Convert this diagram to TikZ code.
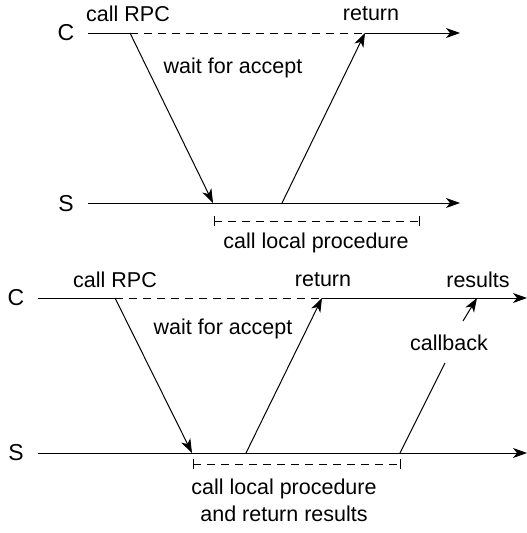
\documentclass[tikz,border=0pt]{standalone}
\usepackage{fontspec}
\setmainfont{Liberation Sans}
\usetikzlibrary{arrows.meta}
\begin{document}
\begin{tikzpicture}[x=1pt,y=-1pt,
  ln/.style={line width=1pt},
  arr/.style={ln,-{Stealth[length=14pt,width=10pt,inset=4pt]}},
  dsh/.style={ln,dash pattern=on 8pt off 6pt},
  lbl/.style={inner sep=0pt,font=\fontsize{21.5}{24}\selectfont},
  side/.style={inner sep=0pt,font=\fontsize{23}{26}\selectfont},
  tick/.style={ln}]
\useasboundingbox (0,0) rectangle (527,533);
% ---------- top diagram ----------
\node[side] (C1) at (66,33) {C};
\node[side] (S1) at (66,204) {S};
\coordinate (c1a) at (88,33);
\coordinate (c1call) at (130,33);
\coordinate (c1ret) at (365,33);
\coordinate (c1end) at (460,33);
\coordinate (s1a) at (88,203);
\coordinate (s1in) at (213,203);
\coordinate (s1out) at (282,203);
\coordinate (s1end) at (460,203);
\draw[ln] (c1a) -- (c1call);
\draw[dsh] (c1call) -- (c1ret);
\draw[arr] (c1ret) -- (c1end);
\draw[arr] (s1a) -- (s1end);
\draw[arr] (c1call) -- (s1in);
\draw[arr] (s1out) -- (c1ret);
\node[lbl] (callrpc1) at (128,14) {call RPC};
\node[lbl] (ret1) at (371,14) {return};
\node[lbl] (wait1) at (233,68) {wait for accept};
\coordinate (d1a) at (214,221);
\coordinate (d1b) at (419,221);
\draw[dsh] (d1a) -- (d1b);
\draw[tick] ([yshift=-5pt]d1a) -- ([yshift=5pt]d1a);
\draw[tick] ([yshift=-5pt]d1b) -- ([yshift=5pt]d1b);
\node[lbl] (loc1) at (316,243) {call local procedure};
% ---------- bottom diagram ----------
\node[side] (C2) at (16,298) {C};
\node[side] (S2) at (16,453) {S};
\coordinate (c2a) at (38,298);
\coordinate (c2call) at (115,298);
\coordinate (c2ret) at (322,298);
\coordinate (c2res) at (477,298);
\coordinate (c2end) at (527,298);
\coordinate (s2a) at (38,453);
\coordinate (s2in) at (192,453);
\coordinate (s2out) at (246,453);
\coordinate (s2cb) at (400,453);
\coordinate (s2end) at (527,453);
\draw[ln] (c2a) -- (c2call);
\draw[dsh] (c2call) -- (c2ret);
\draw[arr] (c2ret) -- (c2end);
\draw[arr] (s2a) -- (s2end);
\draw[arr] (c2call) -- (s2in);
\draw[arr] (s2out) -- (c2ret);
\node[lbl] (callrpc2) at (115,280) {call RPC};
\node[lbl] (ret2) at (323,280) {return};
\node[lbl] (res2) at (478,280) {results};
\node[lbl] (wait2) at (223,329) {wait for accept};
\node[lbl] (cb2) at (449,343) {callback};
\coordinate (cbl) at (445,363);
\coordinate (cbu) at (463,321);
\draw[ln] (s2cb) -- (cbl);
\draw[arr] (cbu) -- (c2res);
\coordinate (d2a) at (193,464);
\coordinate (d2b) at (400,464);
\draw[dsh] (d2a) -- (d2b);
\draw[tick] ([yshift=-5pt]d2a) -- ([yshift=5pt]d2a);
\draw[tick] ([yshift=-5pt]d2b) -- ([yshift=5pt]d2b);
\node[lbl] (loc2) at (284,489) {call local procedure};
\node[lbl] (loc2b) at (284,514) {and return results};
\end{tikzpicture}
\end{document}
